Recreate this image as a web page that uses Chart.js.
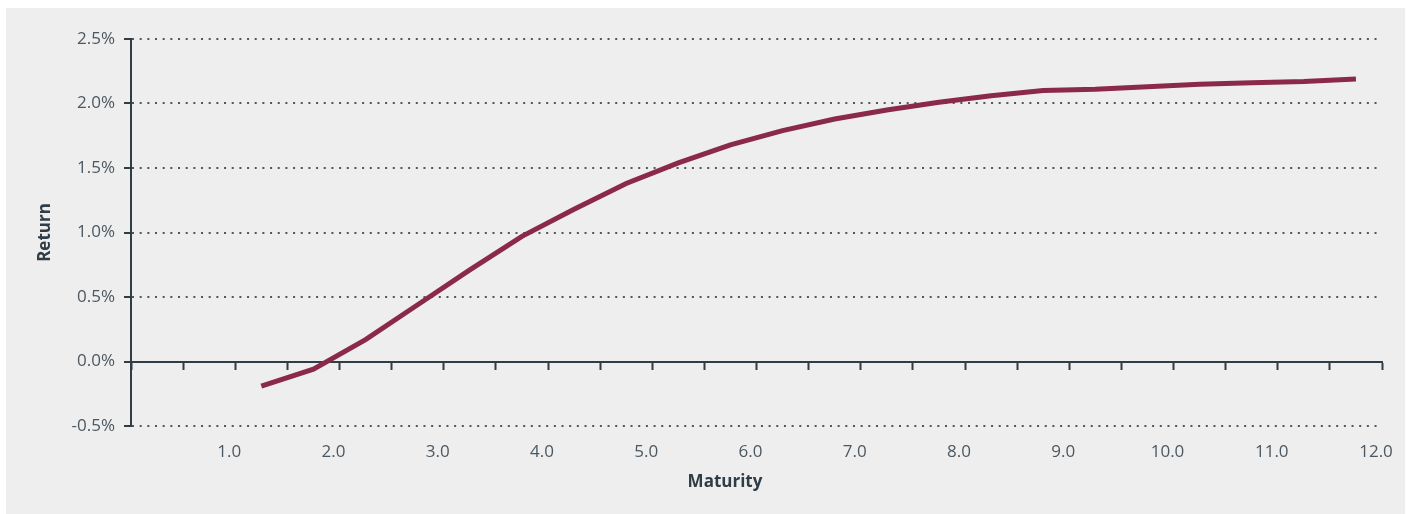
<!DOCTYPE html>
<html>
<head>
<meta charset="utf-8">
<script src="https://cdn.jsdelivr.net/npm/chart.js@4/dist/chart.umd.min.js"></script>
<style>
  html, body { margin: 0; padding: 0; background: #ffffff; }
  #panel { position: absolute; left: 6px; top: 8px; width: 1399px; height: 506px; background: #eeeeee; }
  #wrap { position: absolute; left: 0; top: 0; width: 1408px; height: 514px; }
</style>
</head>
<body>
<div id="panel"></div>
<div id="wrap"><canvas id="chart" width="1408" height="514"></canvas></div>
<script>
// Yield curve: return by maturity (years)
const maturities = [1.25, 1.75, 2.25, 2.75, 3.25, 3.75, 4.25, 4.75, 5.25, 5.75, 6.25,
                    6.75, 7.25, 7.75, 8.25, 8.75, 9.25, 9.75, 10.25, 10.75, 11.25, 11.75];
const returns = [-0.19, -0.06, 0.17, 0.44, 0.71, 0.97, 1.18, 1.38, 1.54, 1.68, 1.79,
                 1.88, 1.95, 2.01, 2.06, 2.10, 2.11, 2.13, 2.15, 2.16, 2.17, 2.19];
const xRange = [0, 12];
const yRange = [-0.5, 2.5];

const axisColor = '#2f3d46';
const labelColor = '#4b5861';
const lineColor = '#8b2948';
const fontFamily = '"Open Sans", "Noto Sans", sans-serif';

const points = maturities.map((m, i) => ({ x: m, y: returns[i] }));

new Chart(document.getElementById('chart'), {
  type: 'line',
  data: {
    datasets: [{
      data: points,
      xAxisID: 'x',
      yAxisID: 'y',
      borderColor: lineColor,
      borderWidth: 5,
      borderCapStyle: 'butt',
      tension: 0,
      pointRadius: 0,
      fill: false
    }]
  },
  options: {
    responsive: false,
    animation: false,
    events: [],
    layout: { padding: { left: 68, right: 26, top: 39, bottom: 22 } },
    plugins: {
      legend: { display: false },
      tooltip: { enabled: false },
      // x-axis caption, centred across the full plot width
      title: {
        display: true,
        position: 'bottom',
        text: 'Maturity',
        color: axisColor,
        padding: 0,
        font: { family: fontFamily, size: 17, weight: 'bold', lineHeight: 1.2 }
      }
    },
    scales: {
      x: {
        type: 'linear',
        position: 'bottom',
        min: xRange[0],
        max: xRange[1],
        afterFit: s => { s.height = 45.6; s.paddingLeft = 0; s.paddingRight = 0; },
        grid: { display: false, drawTicks: false },
        border: { display: false },
        ticks: {
          stepSize: 1,
          padding: 16,
          labelOffset: -6,
          maxRotation: 0,
          autoSkip: false,
          color: labelColor,
          font: { family: fontFamily, size: 17 },
          callback: v => (v === 0 ? '' : v.toFixed(1))
        }
      },
      xZero: {
        type: 'linear',
        position: { y: 0 },
        min: xRange[0],
        max: xRange[1],
        grid: {
          drawOnChartArea: false,
          drawTicks: true,
          tickLength: 7,
          tickWidth: 2,
          tickColor: axisColor
        },
        border: { display: true, color: axisColor, width: 2 },
        ticks: { display: false, stepSize: 0.5, autoSkip: false }
      },
      y: {
        type: 'linear',
        position: 'left',
        min: yRange[0],
        max: yRange[1],
        afterFit: s => { s.width = 63; },
        grid: {
          color: 'rgba(47,61,70,0.85)',
          lineWidth: 2,
          drawTicks: true,
          tickLength: 7,
          tickWidth: 2,
          tickColor: axisColor,
          tickBorderDash: []
        },
        border: { display: true, color: axisColor, width: 2, dash: [2, 5.67] },
        ticks: {
          stepSize: 0.5,
          padding: 9,
          color: labelColor,
          font: { family: fontFamily, size: 17 },
          callback: v => v.toFixed(1) + '%'
        },
        title: {
          display: true,
          text: 'Return',
          color: axisColor,
          padding: { top: -33, bottom: 0 },
          font: { family: fontFamily, size: 17, weight: 'bold', lineHeight: 1.2 }
        }
      }
    }
  }
});
</script>
</body>
</html>
